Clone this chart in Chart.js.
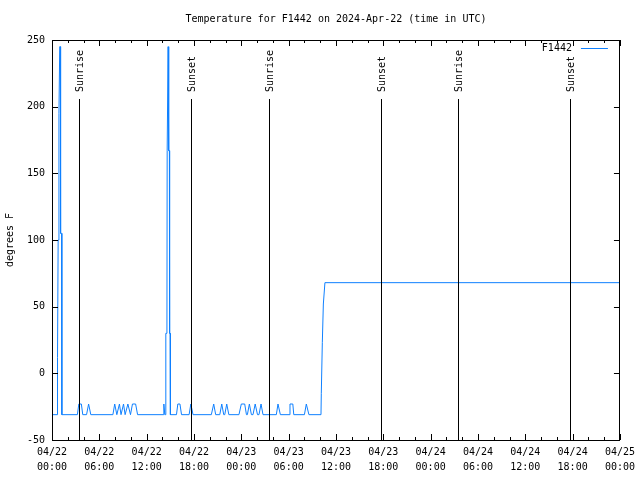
<!DOCTYPE html>
<html>
<head>
<meta charset="utf-8">
<script src="https://cdn.jsdelivr.net/npm/chart.js@4.4.1/dist/chart.umd.min.js"></script>
<style>
  html, body { margin: 0; padding: 0; background: #fff; }
  #wrap { width: 640px; height: 480px; }
</style>
</head>
<body>
<div id="wrap"><canvas id="tempChart" width="640" height="480"></canvas></div>
<script>
// ---------------------------------------------------------------------------
// Temperature for F1442 (hours since 2024-04-22 00:00 UTC)
// ---------------------------------------------------------------------------
const hours = [
  0, 0.66, 0.70, 0.78, 0.88, 0.98, 1.06, 1.09, 1.22, 1.25,
  3.22, 3.40, 3.72, 3.90, 4.38, 4.64, 4.92,
  7.72, 7.95, 8.22, 8.55, 8.75, 9.07, 9.27, 9.62, 9.95, 10.20, 10.60, 10.85,
  14.08, 14.18, 14.30, 14.40, 14.43, 14.57, 14.60, 14.69, 14.72, 14.78,
  14.81, 14.88, 14.91, 14.98, 15.01,
  15.78, 15.95, 16.22, 16.42, 17.38, 17.60, 17.88,
  20.20, 20.50, 20.75, 21.27, 21.52, 21.77, 21.90, 22.15, 22.42,
  23.70, 24.00, 24.43, 24.65, 24.77, 25.02, 25.28, 25.48, 25.76, 26.05,
  26.24, 26.50, 26.75,
  28.44, 28.65, 28.95, 30.05, 30.17, 30.53, 30.65, 32.00, 32.24, 32.57,
  34.10, 34.14, 34.27, 34.40, 34.60, 72
];
const temps = [
  -31, -31, 12, 100, 195, 245, 245, 105, 105, -31,
  -31, -23, -23, -31, -31, -23, -31,
  -31, -23, -31, -23, -31, -23, -31, -23, -31, -23, -23, -31,
  -31, -23, -31, -31, 30, 30, 167, 167, 245, 245,
  167, 167, 30, 30, -31,
  -31, -23, -23, -31, -31, -23, -31,
  -31, -23, -31, -31, -23, -31, -31, -23, -31,
  -31, -23, -23, -31, -31, -23, -31, -31, -23, -31,
  -31, -23, -31,
  -31, -23, -31, -31, -23, -23, -31, -31, -23, -31,
  -31, -15, 23, 52, 68, 68
];

const sunHours  = [3.46, 17.6, 27.5, 41.65, 51.5, 65.7];
const sunLabels = ['Sunrise', 'Sunset', 'Sunrise', 'Sunset', 'Sunrise', 'Sunset'];

const tickDates = ['04/22', '04/22', '04/22', '04/22', '04/23', '04/23', '04/23',
                   '04/23', '04/24', '04/24', '04/24', '04/24', '04/25'];
const tickTimes = ['00:00', '06:00', '12:00', '18:00', '00:00', '06:00', '12:00',
                   '18:00', '00:00', '06:00', '12:00', '18:00', '00:00'];

const TITLE = 'Temperature for F1442 on 2024-Apr-22 (time in UTC)';
const SERIES = 'F1442';
const LINE_COLOR = '#0f80ff';
const FONT = '10px "DejaVu Sans Mono", "Liberation Mono", monospace';

// gnuplot-style frame, inward ticks, sun markers, title and key
const gnuplotFrame = {
  id: 'gnuplotFrame',
  afterDatasetsDraw(chart) {
    const { ctx, chartArea: a, scales: { x, y } } = chart;
    ctx.save();
    ctx.strokeStyle = '#000';
    ctx.fillStyle = '#000';
    ctx.lineWidth = 1;
    ctx.font = FONT;

    // sunrise / sunset markers
    const lineTop = Math.round(a.top + 59);
    sunHours.forEach((h, i) => {
      const px = Math.round(x.getPixelForValue(h)) + 0.5;
      ctx.beginPath();
      ctx.moveTo(px, lineTop);
      ctx.lineTo(px, a.bottom);
      ctx.stroke();
      ctx.save();
      ctx.translate(px + 1, lineTop - 7);
      ctx.rotate(-Math.PI / 2);
      ctx.textAlign = 'left';
      ctx.textBaseline = 'middle';
      ctx.fillText(sunLabels[i], 0, 0);
      ctx.restore();
    });

    // x ticks: major every 6 h, minor every 2 h (bottom and top)
    ctx.beginPath();
    for (let h = 0; h <= 72; h += 2) {
      const px = Math.round(x.getPixelForValue(h)) + 0.5;
      const len = h % 6 === 0 ? 6 : 3;
      ctx.moveTo(px, a.bottom);
      ctx.lineTo(px, a.bottom - len);
      ctx.moveTo(px, a.top);
      ctx.lineTo(px, a.top + len);
    }
    // y ticks every 50 (left and right)
    for (let v = -50; v <= 250; v += 50) {
      const py = Math.round(y.getPixelForValue(v)) + 0.5;
      ctx.moveTo(a.left, py);
      ctx.lineTo(a.left + 6, py);
      ctx.moveTo(a.right, py);
      ctx.lineTo(a.right - 6, py);
    }
    ctx.stroke();

    // frame
    ctx.strokeRect(Math.round(a.left) + 0.5, Math.round(a.top) + 0.5,
                   Math.round(a.right - a.left) - 1, Math.round(a.bottom - a.top));

    // title
    ctx.textAlign = 'center';
    ctx.textBaseline = 'middle';
    ctx.fillText(TITLE, (a.left + a.right) / 2, 19);

    // y axis label
    ctx.save();
    ctx.translate(10, (a.top + a.bottom) / 2);
    ctx.rotate(-Math.PI / 2);
    ctx.fillText('degrees F', 0, 0);
    ctx.restore();

    // key
    ctx.textAlign = 'right';
    ctx.fillText(SERIES, a.right - 48, a.top + 8);
    ctx.strokeStyle = LINE_COLOR;
    ctx.beginPath();
    ctx.moveTo(a.right - 39, a.top + 8.5);
    ctx.lineTo(a.right - 12, a.top + 8.5);
    ctx.stroke();

    ctx.restore();
  }
};

function renderTempChart() {
  const ctx = document.getElementById('tempChart');
  const points = hours.map((h, i) => ({ x: h, y: temps[i] }));

  new Chart(ctx, {
    type: 'line',
    data: {
      datasets: [{
        label: SERIES,
        data: points,
        borderColor: LINE_COLOR,
        borderWidth: 1,
        pointRadius: 0,
        fill: false,
        tension: 0
      }]
    },
    options: {
      responsive: false,
      animation: false,
      layout: { padding: { top: 40, right: 19, left: 0, bottom: 0 } },
      plugins: {
        legend: { display: false },
        title: { display: false },
        tooltip: { enabled: false }
      },
      scales: {
        x: {
          type: 'linear',
          min: 0,
          max: 72,
          afterFit: s => { s.height = 40; },
          grid: { display: false, drawTicks: false },
          border: { display: false },
          ticks: {
            stepSize: 6,
            maxRotation: 0,
            autoSkip: false,
            padding: 5,
            color: '#000',
            font: { family: '"DejaVu Sans Mono", monospace', size: 10, lineHeight: 1.5 },
            callback: v => {
              const i = Math.round(v / 6);
              return [tickDates[i], tickTimes[i]];
            }
          }
        },
        y: {
          min: -50,
          max: 250,
          afterFit: s => { s.width = 52; },
          grid: { display: false, drawTicks: false },
          border: { display: false },
          ticks: {
            stepSize: 50,
            padding: 7,
            color: '#000',
            font: { family: '"DejaVu Sans Mono", monospace', size: 10 }
          }
        }
      }
    },
    plugins: [gnuplotFrame]
  });
}

if (document.readyState === 'loading') {
  document.addEventListener('DOMContentLoaded', renderTempChart);
} else {
  renderTempChart();
}
</script>
</body>
</html>
